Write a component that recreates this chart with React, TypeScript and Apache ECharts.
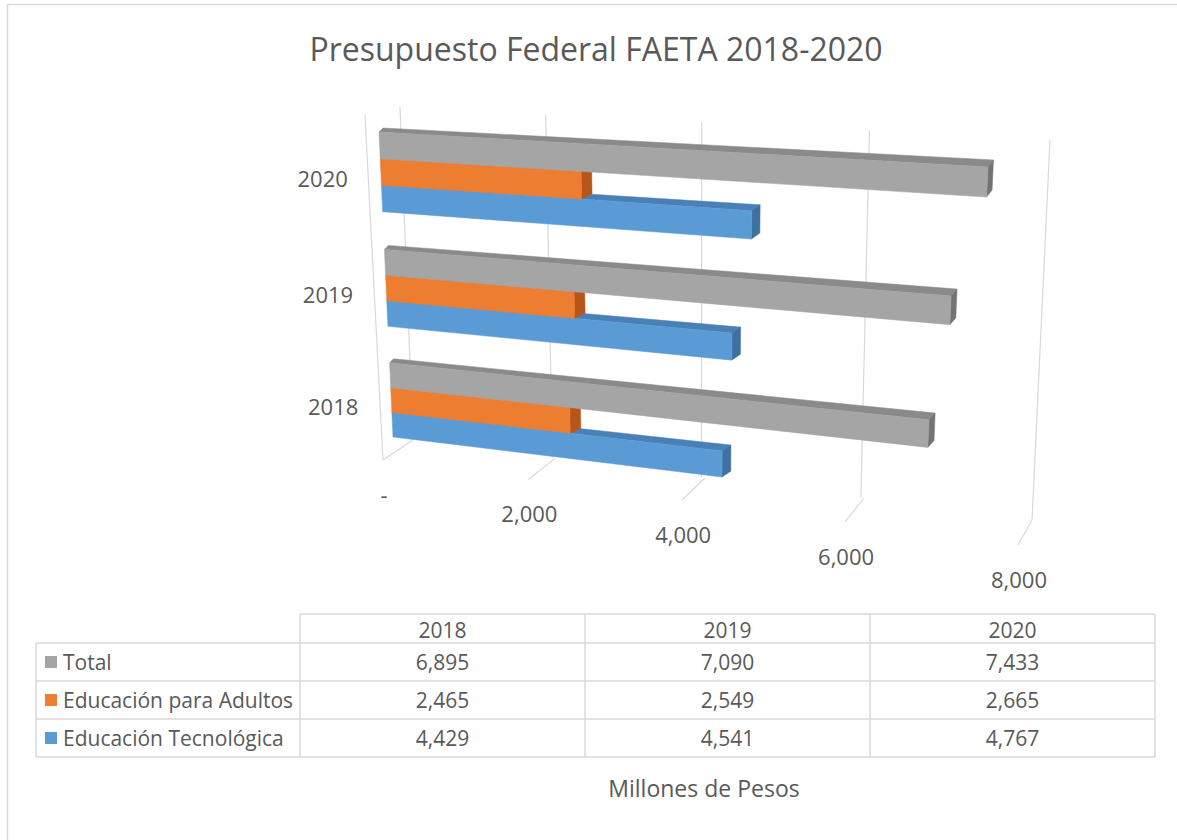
import React, { useEffect, useRef } from "react";
import * as echarts from "echarts";

const categories = ["2018", "2019", "2020"];
const seriesNames = ["Total", "Educación para Adultos", "Educación Tecnológica"];
const totalValues = [6895, 7090, 7433];
const adultosValues = [2465, 2549, 2665];
const tecnologicaValues = [4429, 4541, 4767];
const valueTicks = [0, 2000, 4000, 6000, 8000];
const valueTickLabels = ["-", "2,000", "4,000", "6,000", "8,000"];
const titleText = "Presupuesto Federal FAETA 2018-2020";
const unitText = "Millones de Pesos";

const FONT = '"Open Sans", "Noto Sans", sans-serif';
const TXT = "#595959";
const GRID = "#d9d9d9";

type Pt = [number, number];

function solveHomography(src: Pt[], dst: Pt[]) {
  const A: number[][] = [];
  for (let i = 0; i < 4; i++) {
    const [s, t] = src[i];
    const [x, y] = dst[i];
    A.push([s, t, 1, 0, 0, 0, -s * x, -t * x, x]);
    A.push([0, 0, 0, s, t, 1, -s * y, -t * y, y]);
  }
  const n = 8;
  for (let c = 0; c < n; c++) {
    let p = c;
    for (let r = c + 1; r < n; r++) if (Math.abs(A[r][c]) > Math.abs(A[p][c])) p = r;
    const tmp = A[c]; A[c] = A[p]; A[p] = tmp;
    for (let r = 0; r < n; r++) {
      if (r === c) continue;
      const f = A[r][c] / A[c][c];
      for (let k = c; k <= n; k++) A[r][k] -= f * A[c][k];
    }
  }
  const h = A.map((row, i) => row[n] / row[i]);
  return (s: number, t: number): Pt => {
    const w = h[6] * s + h[7] * t + 1;
    return [(h[0] * s + h[1] * t + h[2]) / w, (h[3] * s + h[4] * t + h[5]) / w];
  };
}

// band layout used for the bar plane
const GROUP_FRAC = 0.675;
const gTop = (1 / 3) * (1 - GROUP_FRAC) / 2;

// front plane of the bars (normalized grid coords -> screen)
const frontH = solveHomography(
  [[0, gTop], [0, 1 - gTop], [7433 / 8000, gTop], [4429 / 8000, 1 - gTop]],
  [[379, 132], [393, 437], [988, 167], [722, 477]]
);
// back wall
const wallH = solveHomography(
  [[0, 0], [0, 1], [1, 0], [1, 1]],
  [[400, 107], [413, 440], [1050, 140], [1032, 520]]
);
// floor (d=0 back, d=1 front)
const floorH = solveHomography(
  [[0, 0], [0, 1], [1, 0], [1, 1]],
  [[413, 440], [383, 460], [1032, 520], [1018, 545]]
);

// projected depth of a bar at a screen point (end faces) and at the start
const depthAt = (p: Pt, s: number): Pt => {
  const dx = Math.max(4.5, Math.min(12, 10.5 - 0.0123 * (p[0] - 580)));
  return [dx, -(4 + 3.3 * s)];
};
const depthStart = (s: number): Pt => [4, -(4 + 3.3 * s)];

const faces = [
  { front: "#a5a5a5", top: "#8a8a8a", side: "#737373" },
  { front: "#ed7d31", top: "#c8621f", side: "#b8561a" },
  { front: "#5b9bd5", top: "#4a80b8", side: "#3e70a0" },
];
const legendColors = ["#a5a5a5", "#ed7d31", "#5b9bd5"];
const seriesValues = [totalValues, adultosValues, tecnologicaValues];

function makeRender(k: number) {
  return (params: any, api: any) => {
    const cs = params.coordSys;
    const v = api.value(0);
    const c = api.value(1);
    const p0 = api.coord([0, c]);
    const p1 = api.coord([v, c]);
    const band = api.size([0, 1])[1];
    const gh = band * GROUP_FRAC;
    const top = p0[1] - gh / 2 + (k * gh) / 3;
    const bot = top + gh / 3;
    const s0 = (p0[0] - cs.x) / cs.width;
    const s1 = (p1[0] - cs.x) / cs.width;
    const t0 = (top - cs.y) / cs.height;
    const t1 = (bot - cs.y) / cs.height;
    const a = frontH(s0, t0);
    const b = frontH(s1, t0);
    const cc = frontH(s1, t1);
    const d = frontH(s0, t1);
    const d0 = depthStart(s0);
    const d1 = depthAt(b, s1);
    const add = (p: Pt, q: Pt): number[] => [p[0] + q[0], p[1] + q[1]];
    const f = faces[k];
    return {
      type: "group",
      children: [
        {
          type: "polygon",
          shape: { points: [a, b, add(b, d1), add(a, d0)] },
          style: { fill: f.top, stroke: f.top, lineWidth: 0.5 },
        },
        {
          type: "polygon",
          shape: { points: [b, cc, add(cc, d1), add(b, d1)] },
          style: { fill: f.side, stroke: f.side, lineWidth: 0.5 },
        },
        {
          type: "polygon",
          shape: { points: [a, b, cc, d] },
          style: { fill: f.front, stroke: f.front, lineWidth: 0.5 },
        },
      ],
    };
  };
}

function buildGraphic() {
  const els: any[] = [];
  // outer border
  els.push({
    type: "rect",
    shape: { x: 7.5, y: 4.5, width: 1185, height: 850 },
    style: { fill: "none", stroke: GRID, lineWidth: 1.5 },
    silent: true,
  });
  // side wall front edge
  els.push({
    type: "line",
    shape: { x1: 365, y1: 115, x2: 383, y2: 460 },
    style: { stroke: GRID, lineWidth: 1.2 },
  });
  valueTicks.forEach((v, i) => {
    const s = v / 8000;
    const wt = wallH(s, 0);
    const wb = wallH(s, 1);
    els.push({
      type: "line",
      shape: { x1: wt[0], y1: wt[1], x2: wb[0], y2: wb[1] },
      style: { stroke: GRID, lineWidth: 1.2 },
    });
    const fb = floorH(s, 0);
    const ff = floorH(s, 1);
    els.push({
      type: "line",
      shape: { x1: fb[0], y1: fb[1], x2: ff[0], y2: ff[1] },
      style: { stroke: GRID, lineWidth: 1.2 },
    });
    els.push({
      type: "text",
      x: ff[0] + 1,
      y: ff[1] + 34,
      style: {
        text: valueTickLabels[i],
        fill: TXT,
        fontSize: 22,
        fontFamily: FONT,
        align: "center",
        verticalAlign: "middle",
      },
    });
  });
  // category labels
  categories.forEach((cat, i) => {
    const tCenter = 1 - (i + 0.5) / 3;
    const p = frontH(0, tCenter);
    els.push({
      type: "text",
      x: p[0] - 33,
      y: p[1] + 6,
      style: {
        text: cat,
        fill: TXT,
        fontSize: 22,
        fontFamily: FONT,
        align: "right",
        verticalAlign: "middle",
      },
    });
  });
  // title
  els.push({
    type: "text",
    x: 596,
    y: 48,
    style: {
      text: titleText,
      fill: TXT,
      fontSize: 32,
      fontFamily: FONT,
      align: "center",
      verticalAlign: "middle",
    },
  });
  // data table
  const colX = [300, 585, 870, 1155];
  const rowY = [614, 643, 681, 719, 757];
  const L = 36;
  const line = (x1: number, y1: number, x2: number, y2: number) =>
    els.push({ type: "line", shape: { x1, y1, x2, y2 }, style: { stroke: GRID, lineWidth: 1.5 } });
  line(colX[0], rowY[0], colX[3], rowY[0]);
  for (let r = 1; r < rowY.length; r++) line(L, rowY[r], colX[3], rowY[r]);
  line(L, rowY[1], L, rowY[4]);
  colX.forEach((x) => line(x, rowY[0], x, rowY[4]));
  const tableText = (text: string, x: number, y: number, align: string) =>
    els.push({
      type: "text",
      x,
      y,
      style: { text, fill: TXT, fontSize: 21, fontFamily: FONT, align, verticalAlign: "middle" },
    });
  categories.forEach((cat, j) => {
    tableText(cat, (colX[j] + colX[j + 1]) / 2, (rowY[0] + rowY[1]) / 2 + 1, "center");
  });
  seriesNames.forEach((name, r) => {
    const yc = (rowY[r + 1] + rowY[r + 2]) / 2;
    els.push({
      type: "rect",
      shape: { x: 45, y: yc - 6, width: 12, height: 12 },
      style: { fill: legendColors[r] },
    });
    tableText(name, 63, yc, "left");
    seriesValues[r].forEach((v, j) => {
      tableText(v.toLocaleString("en-US"), (colX[j] + colX[j + 1]) / 2, yc, "center");
    });
  });
  // unit label
  els.push({
    type: "text",
    x: 704,
    y: 788,
    style: {
      text: unitText,
      fill: TXT,
      fontSize: 23,
      fontFamily: FONT,
      align: "center",
      verticalAlign: "middle",
    },
  });
  return els;
}

export default function App() {
  const ref = useRef<HTMLDivElement>(null);
  useEffect(() => {
    if (!ref.current) return;
    const chart = echarts.init(ref.current, null, { renderer: "svg" });
    const order = [2, 1, 0];
    chart.setOption({
      animation: false,
      backgroundColor: "#ffffff",
      grid: { left: 380, top: 114, width: 650, height: 341 },
      xAxis: { type: "value", min: 0, max: 8000, interval: 2000, show: false },
      yAxis: { type: "category", data: categories, show: false },
      graphic: { elements: buildGraphic() },
      series: order.map((k, idx) => ({
        type: "custom",
        name: seriesNames[k],
        z: 2 + idx,
        renderItem: makeRender(k),
        encode: { x: 0, y: 1 },
        data: seriesValues[k].map((v, i) => [v, i]),
      })),
    });
    return () => chart.dispose();
  }, []);
  return (
    <div
      ref={ref}
      style={{ position: "absolute", left: 0, top: 0, width: 1177, height: 840 }}
    />
  );
}
